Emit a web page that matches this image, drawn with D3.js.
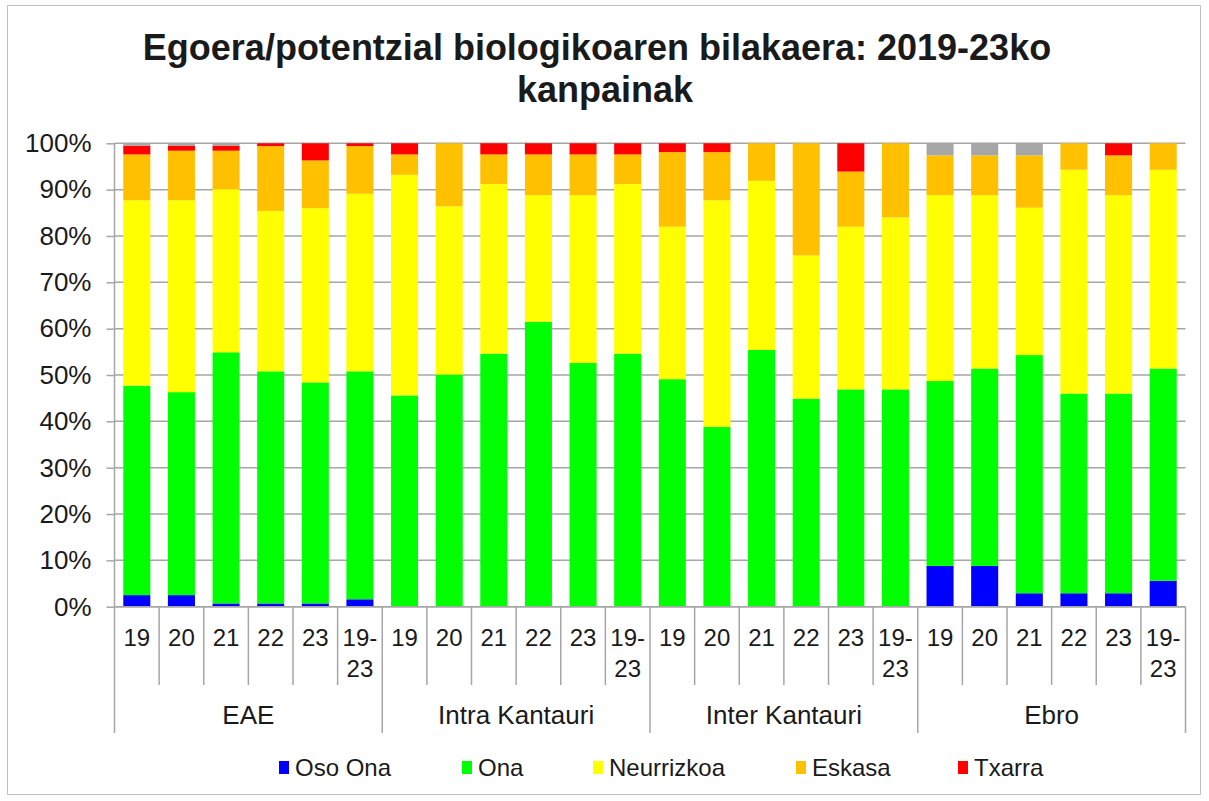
<!DOCTYPE html>
<html>
<head>
<meta charset="utf-8">
<script src="https://cdn.jsdelivr.net/npm/d3@7"></script>
<style>
  body { margin: 0; background: #ffffff; }
  text { font-family: Arial, "Liberation Sans", sans-serif; fill: #1a1a1a; }
</style>
</head>
<body>
<div id="container"></div>
<script>
// Datuak: 4 talde x 6 kanpaina
var taldeak = ["EAE", "Intra Kantauri", "Inter Kantauri", "Ebro"];
var urteak = ["19", "20", "21", "22", "23", "19-23"];

var osoOna     = [2.5, 2.5, 0.7, 0.7, 0.7, 1.6,   0, 0, 0, 0, 0, 0,   0, 0, 0, 0, 0, 0,   8.8, 8.8, 2.9, 2.9, 2.9, 5.6];
var ona        = [45.2, 43.8, 54.2, 50.1, 47.7, 49.2,   45.6, 50.1, 54.6, 61.5, 52.6, 54.6,   49.1, 38.8, 55.4, 44.9, 46.9, 46.9,   39.9, 42.6, 51.4, 43.1, 43.1, 45.8];
var neurrizkoa = [40.0, 41.4, 35.2, 34.6, 37.6, 38.3,   47.6, 36.3, 36.6, 27.3, 36.2, 36.6,   32.9, 48.9, 36.5, 30.9, 35.1, 37.1,   40.1, 37.4, 31.8, 48.3, 42.8, 42.9];
var eskasa     = [9.9, 10.7, 8.3, 14.0, 10.3, 10.3,   4.4, 13.6, 6.4, 8.8, 8.8, 6.4,   16.1, 10.4, 8.1, 24.2, 11.9, 16.0,   8.6, 8.6, 11.3, 5.7, 8.6, 5.7];
var txarra     = [1.9, 1.1, 1.1, 0.6, 3.7, 0.6,   2.4, 0, 2.4, 2.4, 2.4, 2.4,   1.9, 1.9, 0, 0, 6.1, 0,   0, 0, 0, 0, 2.6, 0];
var besteak    = [0.5, 0.5, 0.5, 0, 0, 0,   0, 0, 0, 0, 0, 0,   0, 0, 0, 0, 0, 0,   2.6, 2.6, 2.6, 0, 0, 0];

var yTicks = [0, 10, 20, 30, 40, 50, 60, 70, 80, 90, 100];

var serieak = [
  { key: "osoOna", izena: "Oso Ona", kolorea: "#0000ff", balioak: osoOna },
  { key: "ona", izena: "Ona", kolorea: "#00ff00", balioak: ona },
  { key: "neurrizkoa", izena: "Neurrizkoa", kolorea: "#ffff00", balioak: neurrizkoa },
  { key: "eskasa", izena: "Eskasa", kolorea: "#ffc000", balioak: eskasa },
  { key: "txarra", izena: "Txarra", kolorea: "#ff0000", balioak: txarra },
  { key: "besteak", izena: null, kolorea: "#a6a6a6", balioak: besteak }
];

var w = 1209;
var h = 801;
var pLeft = 114.5, pRight = 1185.5, pTop = 143.3, pBottom = 606.7;

var svg = d3.select("div#container")
            .append("svg")
            .attr("width", w)
            .attr("height", h);

// kanpoko ertza
svg.append("rect")
   .attr("x", 7.5).attr("y", 5.5)
   .attr("width", 1193).attr("height", 789)
   .attr("fill", "white")
   .attr("stroke", "#bfbfbf")
   .attr("stroke-width", 1);

// izenburua
var izenburua = svg.append("text")
   .attr("text-anchor", "middle")
   .style("font-weight", "bold")
   .style("font-size", "36px");
izenburua.append("tspan").attr("x", 597).attr("y", 60).text("Egoera/potentzial biologikoaren bilakaera: 2019-23ko");
izenburua.append("tspan").attr("x", 605).attr("y", 102).text("kanpainak");

// errenkadak
var errenkadak = [];
taldeak.forEach(function (t, ti) {
  urteak.forEach(function (u, ui) {
    var i = ti * urteak.length + ui;
    var r = { id: t + "|" + u, taldea: t, urtea: u };
    serieak.forEach(function (s) { r[s.key] = s.balioak[i]; });
    errenkadak.push(r);
  });
});

var x = d3.scaleBand()
          .domain(errenkadak.map(function (d) { return d.id; }))
          .range([pLeft, pRight])
          .paddingInner(0.394)
          .paddingOuter(0.197);

var y = d3.scaleLinear().domain([0, 100]).range([pBottom, pTop]);

// sareta
svg.append("g")
   .selectAll("line")
   .data(yTicks)
   .enter()
   .append("line")
   .attr("x1", pLeft).attr("x2", pRight)
   .attr("y1", function (d) { return y(d); })
   .attr("y2", function (d) { return y(d); })
   .attr("stroke", "#a6a6a6")
   .attr("stroke-width", 1.5);

var stack = d3.stack().keys(serieak.map(function (s) { return s.key; }));
var geruzak = stack(errenkadak);

svg.append("g")
   .selectAll("g")
   .data(geruzak)
   .enter()
   .append("g")
   .attr("fill", function (d, i) { return serieak[i].kolorea; })
   .selectAll("rect")
   .data(function (d) { return d; })
   .enter()
   .append("rect")
   .attr("x", function (d) { return x(d.data.id); })
   .attr("width", x.bandwidth())
   .attr("y", function (d) { return y(d[1]); })
   .attr("height", function (d) { return y(d[0]) - y(d[1]); });

// Y ardatza
var yAxis = d3.axisLeft(y)
              .tickValues(yTicks)
              .tickSize(8)
              .tickPadding(15)
              .tickFormat(function (d) { return d + "%"; });

var gy = svg.append("g")
   .attr("transform", "translate(" + pLeft + ",0)")
   .call(yAxis);
gy.select(".domain").remove();
gy.selectAll(".tick line").attr("stroke", "#a6a6a6").attr("stroke-width", 1.5);
gy.selectAll(".tick text")
  .style("font-size", "26px")
  .style("font-family", "Arial, 'Liberation Sans', sans-serif")
  .attr("fill", "#1a1a1a");

// X ardatzeko lerroak (kategoriak eta taldeak)
var pausoa = x.step();
var x0 = x(errenkadak[0].id) - x.paddingOuter() * pausoa;
var mugak = d3.range(errenkadak.length + 1);
svg.append("g")
   .selectAll("line")
   .data(mugak)
   .enter()
   .append("line")
   .attr("x1", function (d) { return x0 + d * pausoa; })
   .attr("x2", function (d) { return x0 + d * pausoa; })
   .attr("y1", function (d) { return d === 0 ? pTop : pBottom; })
   .attr("y2", function (d) { return d % urteak.length === 0 ? 733 : 685; })
   .attr("stroke", "#a6a6a6")
   .attr("stroke-width", 1.5);

svg.append("line")
   .attr("x1", pLeft).attr("x2", pRight)
   .attr("y1", pBottom).attr("y2", pBottom)
   .attr("stroke", "#a6a6a6")
   .attr("stroke-width", 1.5);

// kategorien etiketak
var etiketak = svg.append("g")
   .selectAll("text")
   .data(errenkadak)
   .enter()
   .append("text")
   .attr("text-anchor", "middle")
   .style("font-size", "24px");
etiketak.each(function (d) {
  var cx = x(d.id) + x.bandwidth() / 2;
  var zatiak = d.urtea.indexOf("-") > 0 ? [d.urtea.split("-")[0] + "-", d.urtea.split("-")[1]] : [d.urtea];
  var t = d3.select(this);
  zatiak.forEach(function (z, k) {
    t.append("tspan").attr("x", cx).attr("y", 646 + k * 31).text(z);
  });
});

// taldeen etiketak
svg.append("g")
   .selectAll("text")
   .data(taldeak)
   .enter()
   .append("text")
   .attr("text-anchor", "middle")
   .attr("x", function (d, i) { return x0 + (i + 0.5) * urteak.length * pausoa; })
   .attr("y", 724)
   .style("font-size", "26px")
   .text(function (d) { return d; });

// legenda
var legendaX = [279, 462, 593, 796, 958];
var legenda = svg.append("g")
   .selectAll("g")
   .data(serieak.filter(function (s) { return s.izena; }))
   .enter()
   .append("g")
   .attr("transform", function (d, i) { return "translate(" + legendaX[i] + ",761)"; });
legenda.append("rect")
   .attr("width", 10).attr("height", 13)
   .attr("fill", function (d) { return d.kolorea; });
legenda.append("text")
   .attr("x", 16).attr("y", 15)
   .style("font-size", "24px")
   .text(function (d) { return d.izena; });
</script>
</body>
</html>
